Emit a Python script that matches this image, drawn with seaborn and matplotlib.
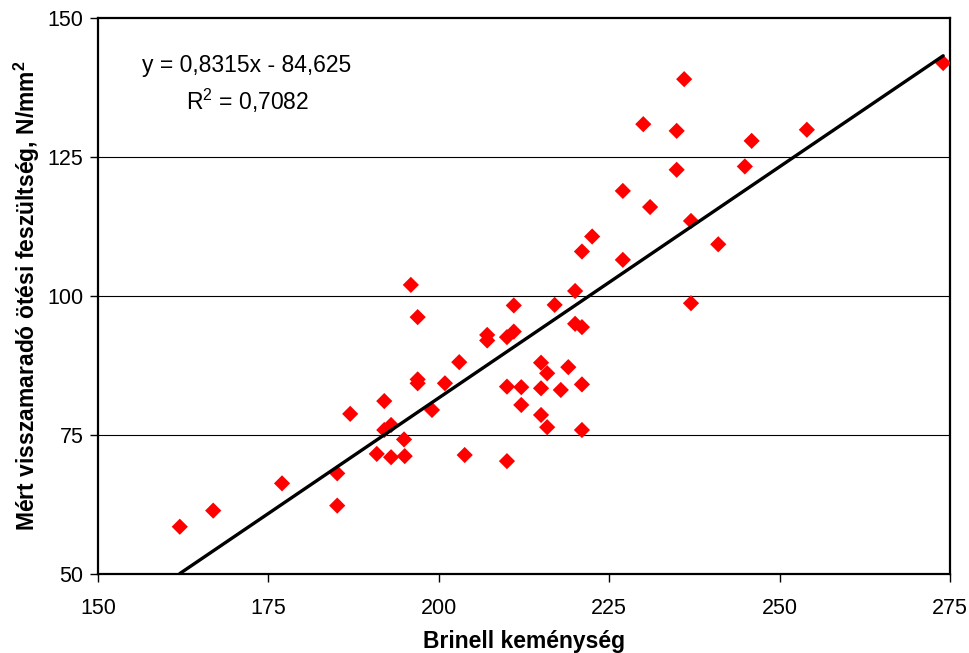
import matplotlib
matplotlib.use("Agg")
import matplotlib.pyplot as plt
import numpy as np
import pandas as pd
import seaborn as sns

# Brinell hardness and measured residual stress of the castings
brinell = [162.0, 166.9, 177.0, 185.1, 185.1, 187.0, 192.0, 192.0, 193.0, 190.9,
           193.0, 194.9, 195.0, 195.9, 196.9, 196.9, 196.9, 199.0, 200.9, 203.0,
           203.8, 207.1, 207.1, 210.0, 210.0, 210.0, 211.0, 211.0, 212.1, 212.1,
           215.0, 215.0, 215.0, 215.9, 215.9, 217.0, 217.9, 219.0, 220.0, 220.0,
           221.0, 221.0, 221.0, 221.0, 222.5, 227.0, 227.0, 230.0, 231.0, 234.9,
           234.9, 236.0, 237.0, 237.0, 241.0, 244.9, 245.9, 254.0, 274.0]
stress = [58.5, 61.4, 66.3, 68.1, 62.3, 78.8, 81.1, 75.9, 76.8, 71.6,
          71.0, 74.2, 71.2, 102.0, 96.2, 85.0, 84.3, 79.5, 84.3, 88.1,
          71.4, 93.0, 92.0, 70.3, 83.7, 92.6, 98.3, 93.6, 83.6, 80.4,
          88.0, 83.4, 78.6, 86.1, 76.4, 98.4, 83.1, 87.2, 100.9, 95.0,
          94.4, 84.1, 75.9, 108.0, 110.7, 106.5, 118.9, 130.9, 116.0, 129.7,
          122.7, 139.0, 113.5, 98.7, 109.3, 123.3, 127.9, 129.9, 141.9]

# Linear trendline coefficients and goodness of fit
slope = 0.8315
intercept = -84.625
r_squared = 0.7082

x_ticks = [150, 175, 200, 225, 250, 275]
y_ticks = [50, 75, 100, 125, 150]

df = pd.DataFrame({"HB": brinell, "sigma": stress})
x_fit = np.array([min(brinell), max(brinell)])
fit = pd.DataFrame({"HB": x_fit, "sigma": slope * x_fit + intercept})

sns.set_theme(style="white")
plt.rcParams["font.family"] = ["Liberation Sans", "DejaVu Sans"]
plt.rcParams["text.color"] = "black"
plt.rcParams["axes.labelcolor"] = "black"
plt.rcParams["mathtext.fontset"] = "custom"
plt.rcParams["mathtext.rm"] = "Liberation Sans"
plt.rcParams["mathtext.it"] = "Liberation Sans"
plt.rcParams["mathtext.bf"] = "Liberation Sans:bold"

fig = plt.figure(figsize=(9.7, 6.53), dpi=100)
ax = fig.add_axes([98 / 970, 1 - 574 / 653, 852 / 970, 556 / 653])

for yv in y_ticks[1:-1]:
    ax.axhline(yv, color="black", lw=0.8, zorder=1)

sns.scatterplot(data=df, x="HB", y="sigma", marker="D", s=68, color="#FF0000",
                edgecolor="none", linewidth=0, ax=ax, zorder=3)
sns.lineplot(data=fit, x="HB", y="sigma", color="black", lw=2.4, ax=ax, zorder=4)

ax.set_xlim(150, 275)
ax.set_ylim(50, 150)
ax.set_xticks(x_ticks)
ax.set_yticks(y_ticks)
ax.tick_params(axis="both", direction="out", length=5.5, width=1, color="black",
               labelsize=15.5, labelcolor="black", bottom=True, left=True)
ax.tick_params(axis="x", pad=12)
ax.tick_params(axis="y", pad=5)

for side in ["left", "bottom", "top", "right"]:
    ax.spines[side].set_visible(True)
    ax.spines[side].set_color("black")
    ax.spines[side].set_linewidth(1.6)

ax.set_xlabel("Brinell keménység", fontsize=16.5, fontweight="bold", labelpad=7.5)
ax.set_ylabel(r"Mért visszamaradó ötési feszültség, N/mm$^{\mathbf{2}}$", fontsize=16.5,
              fontweight="bold", labelpad=4)

eq_text = (f"y = {str(slope).replace('.', ',')}x - {str(-intercept).replace('.', ',')}\n"
           f"R$^{{2}}$ = {str(r_squared).replace('.', ',')}")
ax.text(0.175, 0.935, eq_text, transform=ax.transAxes, ha="center", va="top",
        fontsize=16.5, linespacing=1.4, color="black")

fig.savefig("out.png", dpi=100, facecolor="white")
